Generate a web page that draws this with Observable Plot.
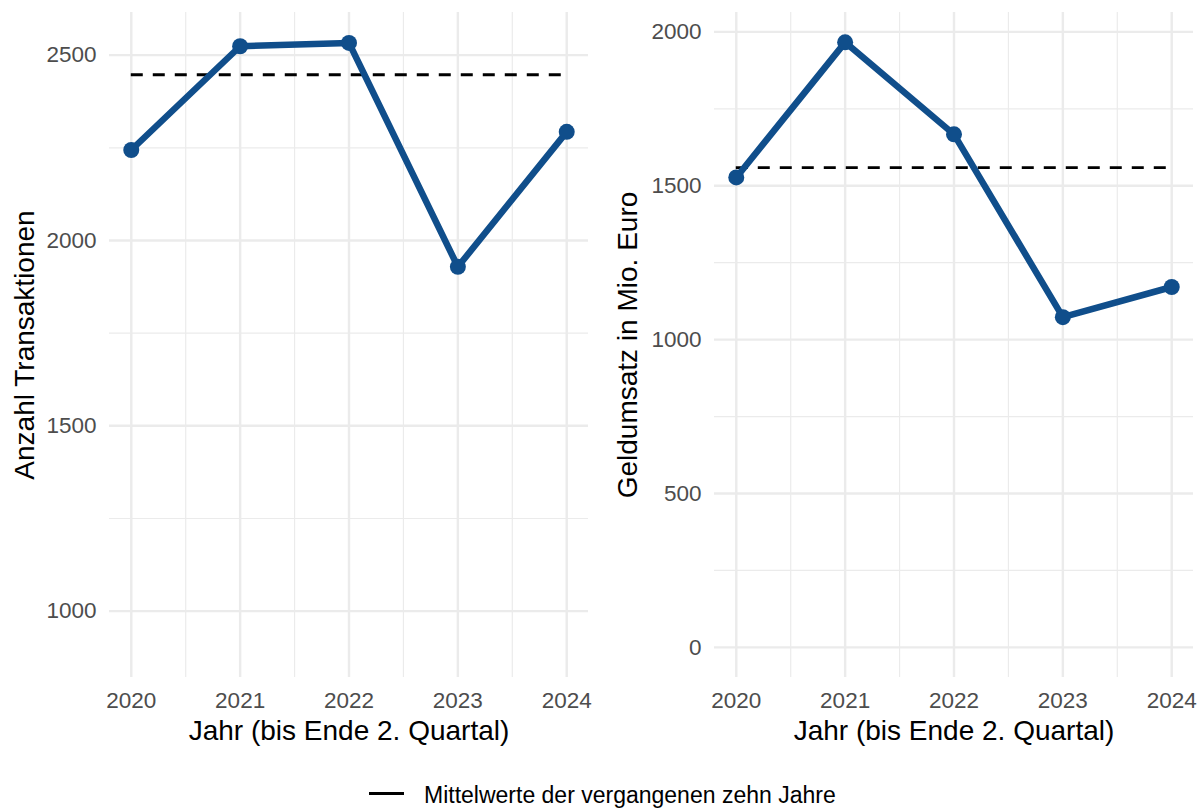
<!DOCTYPE html>
<html>
<head>
<meta charset="utf-8">
<script src="https://cdn.jsdelivr.net/npm/d3@7"></script>
<script src="https://cdn.jsdelivr.net/npm/@observablehq/plot@0.6"></script>
<style>
  html, body { margin: 0; padding: 0; background: #fff; }
  body { width: 1203px; height: 809px; overflow: hidden; font-family: "Liberation Sans", Arial, sans-serif; }
  #wrap { position: relative; width: 1203px; height: 809px; }
  #left { position: absolute; left: 0; top: 0; }
  #right { position: absolute; left: 600px; top: 0; }
  #legend-line { position: absolute; left: 369px; top: 792px; width: 35px; height: 2.6px; background: #000; }
  #legend-text { position: absolute; left: 424px; top: 784px; font-size: 23px; line-height: 22px; color: #000; white-space: nowrap; }
</style>
</head>
<body>
<div id="wrap">
  <div id="left"></div>
  <div id="right"></div>
  <div id="legend-line"></div>
  <div id="legend-text">Mittelwerte der vergangenen zehn Jahre</div>
</div>
<script>
// ---- Data ----
const years = [2020, 2021, 2022, 2023, 2024];
const minorYears = [2020.5, 2021.5, 2022.5, 2023.5];
const transaktionen = [2244, 2524, 2533, 1929, 2293];
const geldumsatz = [1527, 1966, 1667, 1073, 1171];
const mittelTransaktionen = 2447;
const mittelGeldumsatz = 1559;
const yTicksLeft = [1000, 1500, 2000, 2500];
const yMinorLeft = [1250, 1750, 2250];
const yTicksRight = [0, 500, 1000, 1500, 2000];
const yMinorRight = [250, 750, 1250, 1750];
const xTitle = "Jahr (bis Ende 2. Quartal)";
const yTitleLeft = "Anzahl Transaktionen";
const yTitleRight = "Geldumsatz in Mio. Euro";

const blue = "#104E8B";
const grid = "#EBEBEB";
const font = "Liberation Sans, Arial, sans-serif";

function panel({values, mean, yDomain, yTicks, yMinor, yTitle, width, marginLeft, marginRight, titleDx}) {
  const rows = years.map((y, i) => ({year: y, value: values[i]}));
  return Plot.plot({
    width,
    height: 760,
    marginLeft,
    marginRight,
    marginTop: 12,
    marginBottom: 83,
    style: {fontFamily: font, background: "transparent", overflow: "visible"},
    x: {domain: [2019.8, 2024.2]},
    y: {domain: yDomain},
    marks: [
      Plot.ruleY(yMinor, {stroke: grid, strokeWidth: 1.2}),
      Plot.ruleX(minorYears, {stroke: grid, strokeWidth: 1.2}),
      Plot.ruleY(yTicks, {stroke: grid, strokeWidth: 2.4}),
      Plot.ruleX(years, {stroke: grid, strokeWidth: 2.4}),
      Plot.axisY(yTicks, {tickSize: 0, tickPadding: 13, fontSize: 22.5, fill: "#4D4D4D", label: null, tickFormat: d => String(d)}),
      Plot.axisX(years, {tickSize: 0, tickPadding: 15, fontSize: 22.5, fill: "#4D4D4D", label: null, tickFormat: d => String(d)}),
      Plot.ruleY([mean], {x1: years[0], x2: years[years.length - 1], stroke: "#000", strokeWidth: 2.8, strokeDasharray: "12,10"}),
      Plot.line(rows, {x: "year", y: "value", stroke: blue, strokeWidth: 6.5, strokeLinejoin: "round"}),
      Plot.dot(rows, {x: "year", y: "value", r: 8, fill: blue, stroke: "none"}),
      Plot.text([xTitle], {frameAnchor: "bottom", lineAnchor: "bottom", dy: 62, text: d => d, fontSize: 28, fill: "#000"}),
      Plot.text([yTitle], {frameAnchor: "left", textAnchor: "middle", lineAnchor: "middle", dx: titleDx, rotate: -90, text: d => d, fontSize: 28, fill: "#000"})
    ]
  });
}

document.getElementById("left").appendChild(panel({
  values: transaktionen, mean: mittelTransaktionen,
  yDomain: [821, 2615], yTicks: yTicksLeft, yMinor: yMinorLeft, yTitle: yTitleLeft,
  width: 600, marginLeft: 109, marginRight: 12, titleDx: -84
}));
document.getElementById("right").appendChild(panel({
  values: geldumsatz, mean: mittelGeldumsatz,
  yDomain: [-98, 2063], yTicks: yTicksRight, yMinor: yMinorRight, yTitle: yTitleRight,
  width: 603, marginLeft: 114, marginRight: 10, titleDx: -86
}));
</script>
</body>
</html>
